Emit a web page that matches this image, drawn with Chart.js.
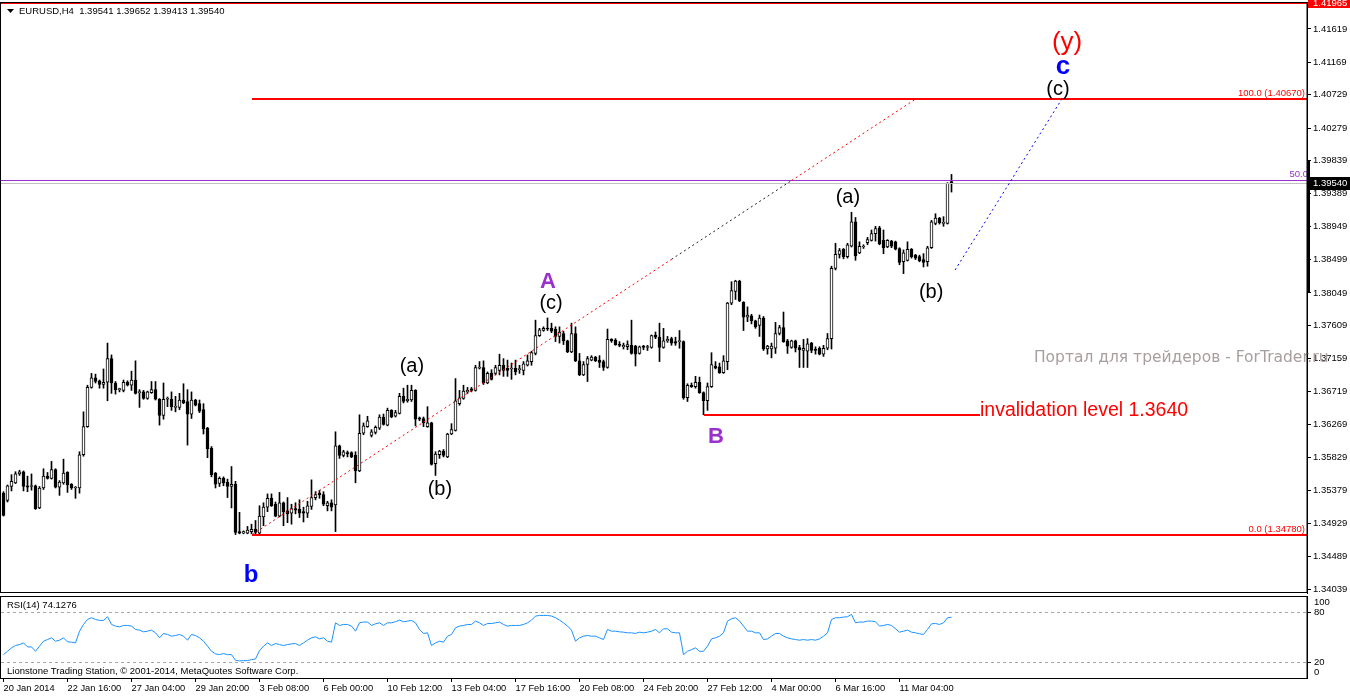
<!DOCTYPE html>
<html><head><meta charset="utf-8">
<script src="https://cdn.jsdelivr.net/npm/chart.js@4/dist/chart.umd.min.js"></script>
<style>
html,body{margin:0;padding:0;background:#fff;overflow:hidden}
#wrap{position:relative;width:1350px;height:697px;background:#fff}
canvas{position:absolute;left:0}
#main{top:0}
#rsi{top:594px}
</style></head><body>
<div id="wrap"><canvas id="main" width="1350" height="594"></canvas><canvas id="rsi" width="1350" height="103"></canvas></div>
<script>
// ---------- DATA (EURUSD H4) ----------
const opens=[1.3534,1.3524,1.3543,1.3548,1.3560,1.3563,1.3544,1.3543,1.3544,1.3514,
1.3541,1.3557,1.3554,1.3566,1.3542,1.3548,1.3562,1.3546,1.3541,1.3541,
1.3586,1.3624,1.3677,1.3690,1.3686,1.3681,1.3684,1.3716,1.3683,1.3674,
1.3673,1.3684,1.3680,1.3687,1.3670,1.3671,1.3662,1.3670,1.3674,1.3661,
1.3639,1.3661,1.3661,1.3650,1.3650,1.3660,1.3658,1.3641,1.3660,1.3655,
1.3647,1.3622,1.3595,1.3561,1.3547,1.3554,1.3549,1.3543,1.3546,1.3482,
1.3480,1.3480,1.3482,1.3485,1.3480,1.3502,1.3515,1.3527,1.3519,1.3503,
1.3521,1.3510,1.3507,1.3513,1.3512,1.3509,1.3507,1.3516,1.3528,1.3534,
1.3532,1.3517,1.3521,1.3518,1.3598,1.3585,1.3589,1.3589,1.3585,1.3564,
1.3615,1.3624,1.3612,1.3616,1.3622,1.3637,1.3626,1.3646,1.3638,1.3642,
1.3665,1.3659,1.3660,1.3673,1.3636,1.3635,1.3624,1.3629,1.3574,1.3586,
1.3591,1.3583,1.3614,1.3619,1.3655,1.3662,1.3671,1.3675,1.3673,1.3703,
1.3704,1.3683,1.3696,1.3696,1.3700,1.3707,1.3703,1.3702,1.3703,1.3701,
1.3700,1.3707,1.3712,1.3723,1.3747,1.3754,1.3757,1.3757,1.3756,1.3746,
1.3750,1.3740,1.3725,1.3750,1.3713,1.3694,1.3708,1.3714,1.3718,1.3714,
1.3712,1.3704,1.3742,1.3741,1.3735,1.3732,1.3732,1.3734,1.3733,1.3723,
1.3733,1.3731,1.3731,1.3748,1.3745,1.3731,1.3740,1.3743,1.3739,1.3739,
1.3739,1.3663,1.3680,1.3678,1.3684,1.3670,1.3659,1.3678,1.3706,1.3705,
1.3697,1.3712,1.3791,1.3807,1.3821,1.3792,1.3772,1.3774,1.3767,1.3761,
1.3771,1.3729,1.3729,1.3730,1.3750,1.3758,1.3740,1.3731,1.3740,1.3731,
1.3727,1.3726,1.3737,1.3729,1.3730,1.3722,1.3730,1.3743,1.3838,1.3857,
1.3864,1.3854,1.3868,1.3901,1.3859,1.3867,1.3873,1.3876,1.3885,1.3893,
1.3876,1.3867,1.3875,1.3874,1.3865,1.3847,1.3849,1.3864,1.3856,1.3854,
1.3850,1.3847,1.3866,1.3899,1.3906,1.3899,1.3899,1.39541];
const highs=[1.3536,1.3545,1.3559,1.3563,1.3565,1.3564,1.3557,1.3560,1.3545,1.3543,
1.3567,1.3562,1.3577,1.3567,1.3551,1.3580,1.3563,1.3547,1.3543,1.3590,
1.3644,1.3680,1.3696,1.3695,1.3687,1.3702,1.3737,1.3721,1.3685,1.3676,
1.3687,1.3686,1.3699,1.3713,1.3674,1.3673,1.3672,1.3685,1.3685,1.3662,
1.3683,1.3664,1.3671,1.3665,1.3669,1.3682,1.3674,1.3671,1.3661,1.3660,
1.3655,1.3623,1.3597,1.3562,1.3556,1.3556,1.3553,1.3570,1.3550,1.3508,
1.3483,1.3489,1.3492,1.3497,1.3517,1.3521,1.3533,1.3533,1.3522,1.3535,
1.3522,1.3528,1.3519,1.3521,1.3525,1.3515,1.3523,1.3552,1.3536,1.3538,
1.3536,1.3523,1.3525,1.3617,1.3599,1.3592,1.3591,1.3590,1.3590,1.3640,
1.3629,1.3638,1.3620,1.3625,1.3640,1.3641,1.3649,1.3647,1.3646,1.3669,
1.3676,1.3680,1.3680,1.3674,1.3637,1.3637,1.3651,1.3630,1.3590,1.3592,
1.3593,1.3615,1.3628,1.3689,1.3673,1.3680,1.3677,1.3677,1.3707,1.3712,
1.3713,1.3698,1.3701,1.3707,1.3722,1.3716,1.3714,1.3710,1.3714,1.3707,
1.3712,1.3721,1.3726,1.3768,1.3757,1.3759,1.3771,1.3764,1.3759,1.3759,
1.3753,1.3741,1.3764,1.3759,1.3723,1.3712,1.3719,1.3720,1.3719,1.3720,
1.3714,1.3756,1.3743,1.3743,1.3739,1.3737,1.3740,1.3768,1.3734,1.3733,
1.3734,1.3734,1.3748,1.3752,1.3764,1.3757,1.3746,1.3745,1.3745,1.3754,
1.3740,1.3682,1.3683,1.3692,1.3691,1.3671,1.3683,1.3724,1.3712,1.3710,
1.3720,1.3792,1.3820,1.3822,1.3822,1.3793,1.3786,1.3776,1.3768,1.3775,
1.3773,1.3734,1.3737,1.3765,1.3761,1.3779,1.3742,1.3741,1.3741,1.3734,
1.3742,1.3743,1.3738,1.3732,1.3732,1.3734,1.3750,1.3841,1.3872,1.3865,
1.3865,1.3872,1.3914,1.3907,1.3874,1.3870,1.3880,1.3890,1.3895,1.3895,
1.3890,1.3877,1.3876,1.3875,1.3866,1.3863,1.3874,1.3865,1.3857,1.3856,
1.3858,1.3868,1.3903,1.3912,1.3907,1.3908,1.3954,1.39652];
const lows=[1.3503,1.3522,1.3537,1.3547,1.3558,1.3537,1.3536,1.3538,1.3512,1.3513,
1.3539,1.3553,1.3553,1.3541,1.3531,1.3546,1.3535,1.3539,1.3527,1.3534,
1.3584,1.3623,1.3676,1.3683,1.3676,1.3676,1.3659,1.3669,1.3668,1.3671,
1.3671,1.3679,1.3673,1.3668,1.3650,1.3661,1.3661,1.3669,1.3660,1.3626,
1.3634,1.3651,1.3646,1.3644,1.3647,1.3655,1.3599,1.3635,1.3652,1.3643,
1.3614,1.3582,1.3556,1.3541,1.3543,1.3544,1.3528,1.3514,1.3478,1.3479,
1.3479,1.3479,1.3479,1.3478,1.3479,1.3490,1.3509,1.3516,1.3502,1.3502,
1.3490,1.3494,1.3492,1.3506,1.3501,1.3495,1.3501,1.3512,1.3525,1.3527,
1.3517,1.3510,1.3510,1.3482,1.3581,1.3583,1.3583,1.3582,1.3548,1.3563,
1.3613,1.3623,1.3610,1.3614,1.3620,1.3626,1.3625,1.3636,1.3637,1.3641,
1.3656,1.3657,1.3658,1.3625,1.3632,1.3624,1.3623,1.3572,1.3558,1.3581,
1.3583,1.3582,1.3613,1.3618,1.3653,1.3661,1.3669,1.3671,1.3672,1.3702,
1.3681,1.3682,1.3687,1.3694,1.3694,1.3692,1.3692,1.3688,1.3694,1.3696,
1.3694,1.3706,1.3707,1.3721,1.3746,1.3753,1.3754,1.3751,1.3739,1.3737,
1.3735,1.3724,1.3724,1.3712,1.3693,1.3693,1.3685,1.3713,1.3712,1.3704,
1.3700,1.3703,1.3738,1.3734,1.3732,1.3729,1.3728,1.3722,1.3706,1.3722,
1.3728,1.3727,1.3730,1.3743,1.3712,1.3730,1.3738,1.3734,1.3734,1.3730,
1.3661,1.3658,1.3677,1.3676,1.3669,1.3640,1.3646,1.3677,1.3702,1.3696,
1.3696,1.3701,1.3789,1.3796,1.3793,1.3754,1.3766,1.3763,1.3757,1.3746,
1.3727,1.3722,1.3717,1.3723,1.3748,1.3738,1.3723,1.3730,1.3725,1.3704,
1.3704,1.3704,1.3724,1.3722,1.3721,1.3719,1.3728,1.3729,1.3836,1.3852,
1.3851,1.3852,1.3867,1.3849,1.3858,1.3865,1.3870,1.3875,1.3875,1.3870,
1.3858,1.3866,1.3866,1.3863,1.3843,1.3831,1.3848,1.3852,1.3850,1.3847,
1.3840,1.3841,1.3865,1.3897,1.3898,1.3895,1.3898,1.39413];
const closes=[1.3504,1.3544,1.3550,1.3560,1.3563,1.3543,1.3542,1.3543,1.3513,1.3541,
1.3557,1.3554,1.3566,1.3542,1.3549,1.3561,1.3545,1.3541,1.3541,1.3586,
1.3624,1.3677,1.3690,1.3685,1.3681,1.3684,1.3716,1.3683,1.3674,1.3674,
1.3684,1.3680,1.3687,1.3669,1.3670,1.3662,1.3671,1.3674,1.3661,1.3639,
1.3661,1.3661,1.3651,1.3650,1.3660,1.3656,1.3641,1.3660,1.3653,1.3645,
1.3621,1.3594,1.3559,1.3546,1.3554,1.3548,1.3543,1.3546,1.3481,1.3480,
1.3482,1.3484,1.3485,1.3481,1.3503,1.3515,1.3527,1.3517,1.3503,1.3521,
1.3509,1.3506,1.3513,1.3511,1.3507,1.3507,1.3517,1.3528,1.3532,1.3532,
1.3519,1.3521,1.3515,1.3598,1.3585,1.3590,1.3587,1.3583,1.3564,1.3615,
1.3625,1.3632,1.3617,1.3623,1.3637,1.3627,1.3646,1.3637,1.3643,1.3665,
1.3658,1.3661,1.3673,1.3634,1.3634,1.3629,1.3629,1.3573,1.3587,1.3591,
1.3585,1.3614,1.3620,1.3659,1.3663,1.3672,1.3673,1.3673,1.3704,1.3704,
1.3683,1.3696,1.3688,1.3704,1.3707,1.3700,1.3700,1.3702,1.3698,1.3701,
1.3709,1.3713,1.3724,1.3747,1.3755,1.3757,1.3756,1.3753,1.3746,1.3752,
1.3740,1.3725,1.3750,1.3713,1.3694,1.3708,1.3716,1.3718,1.3713,1.3711,
1.3704,1.3742,1.3740,1.3735,1.3734,1.3734,1.3735,1.3723,1.3722,1.3732,
1.3731,1.3731,1.3747,1.3745,1.3731,1.3740,1.3742,1.3737,1.3737,1.3739,
1.3663,1.3680,1.3678,1.3684,1.3670,1.3659,1.3678,1.3708,1.3703,1.3697,
1.3713,1.3791,1.3808,1.3821,1.3794,1.3772,1.3775,1.3767,1.3759,1.3771,
1.3729,1.3733,1.3733,1.3750,1.3758,1.3739,1.3733,1.3740,1.3730,1.3728,
1.3730,1.3736,1.3727,1.3727,1.3722,1.3730,1.3743,1.3838,1.3857,1.3862,
1.3854,1.3870,1.3901,1.3855,1.3868,1.3867,1.3877,1.3885,1.3892,1.3871,
1.3866,1.3876,1.3868,1.3864,1.3846,1.3859,1.3864,1.3854,1.3852,1.3848,
1.3846,1.3866,1.3901,1.3906,1.3900,1.3900,1.3953,1.39540];
const rsiValues=[28.5,32.6,36.7,39.6,40.8,42.8,37.9,37.9,32.6,38.8,
44.9,46.9,49.0,44.9,46.1,49.0,44.1,43.7,42.8,57.1,
65.3,71.4,73.5,71.4,70.2,70.2,74.7,65.3,63.3,62.4,
64.1,64.1,63.3,59.2,58.4,56.3,57.1,58.4,55.1,49.0,
54.3,53.1,51.0,51.8,53.1,51.0,46.1,53.1,51.8,49.0,
44.9,38.8,32.6,29.4,28.5,29.8,28.5,28.5,21.6,20.8,
21.2,21.2,22.4,23.2,33.4,38.8,42.8,39.6,42.0,40.8,
39.6,40.8,41.6,42.0,39.6,42.8,46.1,49.0,50.2,47.7,
49.0,44.9,43.7,67.3,64.1,65.3,65.3,63.3,57.1,67.3,
68.2,68.2,64.1,66.1,67.3,64.1,67.3,67.3,68.6,70.6,
68.6,69.4,70.2,67.3,59.2,54.3,55.1,39.6,42.8,44.9,
43.7,51.0,53.1,61.2,63.3,64.1,65.3,65.3,69.4,67.3,
64.1,66.5,66.5,67.3,68.2,65.3,63.3,64.1,64.1,64.1,
65.3,67.3,70.6,75.5,76.3,76.3,76.3,75.5,73.5,70.6,
67.3,63.3,58.4,44.9,49.0,51.0,51.8,51.0,51.0,49.0,
46.9,59.2,57.1,57.1,56.3,55.9,55.1,55.1,54.3,55.9,
55.1,55.9,57.1,59.2,55.1,60.0,60.0,55.9,55.1,55.1,
28.5,32.6,34.7,36.7,32.6,32.6,38.8,47.7,49.0,51.0,
55.1,69.4,72.3,73.5,69.4,63.3,57.1,57.1,55.1,55.1,
46.9,47.7,51.0,54.3,54.3,51.0,49.0,47.7,46.9,46.1,
46.9,46.1,46.9,46.1,47.7,51.0,55.1,71.4,73.5,73.5,
74.3,74.7,77.6,67.3,68.2,68.2,69.4,69.4,68.6,63.3,
64.1,65.3,64.1,60.0,55.9,57.1,58.4,55.9,55.1,53.9,
53.1,59.2,66.1,66.5,65.3,67.3,73.5,74.1276];
const priceTicks=[1.41619,1.41169,1.40729,1.40279,1.39839,1.39389,1.38949,1.38499,1.38049,1.37609,1.37159,1.36719,1.36269,1.35829,1.35379,1.34929,1.34489,1.34039];
const timeTickBars=[0,16,32,48,64,80,96,112,128,144,160,176,192,208,224];
const timeTickLabels=['20 Jan 2014','22 Jan 16:00','27 Jan 04:00','29 Jan 20:00','3 Feb 08:00','6 Feb 00:00','10 Feb 12:00','13 Feb 04:00','17 Feb 16:00','20 Feb 08:00','24 Feb 20:00','27 Feb 12:00','4 Mar 00:00','6 Mar 16:00','11 Mar 04:00'];
const rsiLevels=[80,20];
// analysis objects (bar index, price)
const fibo100=1.40670, fibo0=1.34780, fiboStartBar=62.2, fiboEndBar=228;
const darkSegFromBar=167, darkSegToBar=197;
const halfLevel=1.39576;
const topLevel=1.41965;
const invalidLevel=1.3640, invalidFromBar=175.1, invalidToBar=244.1;
const projFromBar=237.9, projFromPrice=1.38359, projToBar=264.9, projToPrice=1.40699;
const waveText=['(y)','c','(c)','(a)','(b)','(a)','(b)','(c)','A','B','b'];
const waveBar=[265.9,264.9,263.6,211.1,231.9,102.1,109.1,136.9,136.1,178.1,61.9];
const wavePrice=[1.41430,1.41105,1.40807,1.39333,1.38048,1.37047,1.35383,1.37912,1.38196,1.36100,1.34233];
const waveKind=['red','blueB','blk','blk','blk','blk','blk','blk','purB','purB','blueS'];
const watermarkBar=257.6, watermarkPrice=1.37168;

// ---------- LAYOUT ----------
const X_MIN=-0.625, X_MAX=325.875;
const K=0.00013528;
const Y_MAX=1.41619+27*K, Y_MIN=1.41619-564*K;
const FONT="'Liberation Sans', Arial, sans-serif";
Chart.defaults.font.family=FONT;
Chart.defaults.font.size=9.5;
Chart.defaults.color='#000';
const idx=opens.map((_,i)=>i);
const kindStyle={
  red:{font:'26px '+FONT,color:'#ff0000'},
  blueB:{font:'bold 26px '+FONT,color:'#0000ff'},
  blueS:{font:'bold 24px '+FONT,color:'#0000ff'},
  blk:{font:'20px '+FONT,color:'#000000'},
  purB:{font:'bold 22px '+FONT,color:'#9932cc'}
};
function noPad(ax){ax.paddingTop=0;ax.paddingBottom=0;ax.paddingLeft=0;ax.paddingRight=0;}

const mainDecor={
  id:'mainDecor',
  afterDatasetsDraw(chart){
    const {ctx,chartArea:a,scales:{x:xs,y:ys}}=chart;
    const X=v=>xs.getPixelForValue(v), Y=v=>ys.getPixelForValue(v);
    ctx.save();
    const W=a.right-a.left;
    ctx.fillStyle='#ff0000'; ctx.fillRect(a.left,Math.round(Y(topLevel))-1,W,2);
    ctx.fillStyle='#9932cc'; ctx.fillRect(a.left,Math.round(Y(halfLevel)),W,1);
    ctx.fillStyle='#c0c0c0'; ctx.fillRect(a.left,Math.round(Y(closes[closes.length-1])),W,1);
    ctx.fillStyle='#ff0000';
    [fibo100,fibo0].forEach(p=>{const x0=Math.round(X(fiboStartBar));ctx.fillRect(x0,Math.round(Y(p))-1,a.right-x0,2);});
    // fibo trend line (dotted), dark in the middle segment
    const fx0=X(fiboStartBar), fy0=Y(fibo0), fx1=X(fiboEndBar), fy1=Y(fibo100);
    const at=b=>{const t=(X(b)-fx0)/(fx1-fx0);return [X(b),fy0+(fy1-fy0)*t];};
    const p1=at(darkSegFromBar), p2=at(darkSegToBar);
    ctx.lineWidth=1; ctx.setLineDash([2,3]);
    ctx.strokeStyle='#ff0000';
    ctx.beginPath(); ctx.moveTo(fx0,fy0); ctx.lineTo(p1[0],p1[1]); ctx.stroke();
    ctx.beginPath(); ctx.moveTo(p2[0],p2[1]); ctx.lineTo(fx1,fy1); ctx.stroke();
    ctx.strokeStyle='#202020';
    ctx.beginPath(); ctx.moveTo(p1[0],p1[1]); ctx.lineTo(p2[0],p2[1]); ctx.stroke();
    ctx.strokeStyle='#0000ff';
    ctx.beginPath(); ctx.moveTo(X(projFromBar),Y(projFromPrice)); ctx.lineTo(X(projToBar),Y(projToPrice)); ctx.stroke();
    ctx.setLineDash([]);
    // invalidation
    ctx.fillStyle='#ff0000';
    const ix0=Math.round(X(invalidFromBar)), ix1=Math.round(X(invalidToBar));
    ctx.fillRect(ix0,Math.round(Y(invalidLevel))-1,ix1-ix0,2);
    ctx.font='19.5px '+FONT; ctx.textAlign='left'; ctx.textBaseline='middle';
    ctx.fillText('invalidation level '+invalidLevel.toFixed(4),ix1,Y(invalidLevel)-4);
    // fibo texts
    ctx.font='9.5px '+FONT; ctx.textAlign='right'; ctx.textBaseline='bottom';
    ctx.fillText('100.0 ('+fibo100.toFixed(5)+')',a.right-2,Math.round(Y(fibo100))-1);
    ctx.fillText('0.0 ('+fibo0.toFixed(5)+')',a.right-2,Math.round(Y(fibo0))-1);
    ctx.fillStyle='#9932cc';
    ctx.fillText('50.0',a.right+1,Math.round(Y(halfLevel))-1);
    // watermark
    ctx.fillStyle='#a89e9e'; ctx.font="15.5px 'DejaVu Sans', sans-serif"; ctx.textAlign='left'; ctx.textBaseline='middle';
    ctx.fillText('Портал для трейдеров - ForTrader.ru',X(watermarkBar),Y(watermarkPrice));
    // wave labels
    ctx.textAlign='center'; ctx.textBaseline='middle';
    waveText.forEach((t,i)=>{const s=kindStyle[waveKind[i]];ctx.font=s.font;ctx.fillStyle=s.color;ctx.fillText(t,X(waveBar[i]),Y(wavePrice[i]));});
    ctx.restore();
  },
  afterDraw(chart){
    const {ctx,chartArea:a,scales:{y:ys}}=chart;
    const Y=v=>ys.getPixelForValue(v);
    ctx.save();
    ctx.strokeStyle='#000'; ctx.lineWidth=1;
    ctx.strokeRect(0.5,a.top+0.5,a.right-0.5,a.bottom-a.top-1);
    ctx.fillStyle='#000';
    ctx.fillRect(a.right,Math.round(Y(1.39839)),3,Math.round(Y(1.38049))-Math.round(Y(1.39839)));
    const yb=Math.round(Y(closes[closes.length-1]));
    ctx.fillStyle='#000'; ctx.fillRect(a.right+1,yb-6,43,13);
    ctx.fillStyle='#fff'; ctx.font='9.5px '+FONT; ctx.textAlign='left'; ctx.textBaseline='middle';
    ctx.fillText(closes[closes.length-1].toFixed(5),a.right+6,yb+0.5);
    const yt=Math.round(Y(topLevel));
    ctx.fillStyle='#ff0000'; ctx.fillRect(a.right+1,0,43,yt+5);
    ctx.fillStyle='#fff'; ctx.fillText(topLevel.toFixed(5),a.right+6,yt);
    ctx.fillStyle='#000';
    ctx.beginPath(); ctx.moveTo(7,9); ctx.lineTo(14,9); ctx.lineTo(10.5,13); ctx.closePath(); ctx.fill();
    ctx.font='9.5px '+FONT; ctx.textBaseline='middle';
    const L=closes.length-1;
    ctx.fillText('EURUSD,H4  '+opens[L].toFixed(5)+' '+highs[L].toFixed(5)+' '+lows[L].toFixed(5)+' '+closes[L].toFixed(5),19,11);
    ctx.restore();
  }
};

new Chart(document.getElementById('main'),{
  type:'bar',
  data:{datasets:[
    {label:'body',data:idx.map(i=>({x:i,y:[opens[i],closes[i]]})),
     backgroundColor:idx.map(i=>closes[i]>=opens[i]?'#ffffff':'#000000'),
     borderColor:'#000',borderWidth:1,borderSkipped:false,minBarLength:1,
     grouped:false,maxBarThickness:3,barPercentage:1,categoryPercentage:1,order:0},
    {label:'wick',data:idx.map(i=>({x:i,y:[lows[i],highs[i]]})),
     backgroundColor:'#000',borderWidth:0,grouped:false,maxBarThickness:1,barPercentage:1,categoryPercentage:1,order:1}
  ]},
  options:{responsive:false,animation:false,devicePixelRatio:1,
    layout:{padding:{left:1,top:2,right:0,bottom:1}},
    plugins:{legend:{display:false},tooltip:{enabled:false}},
    scales:{
      x:{type:'linear',display:false,min:X_MIN,max:X_MAX,offset:false},
      y:{type:'linear',position:'right',min:Y_MIN,max:Y_MAX,
        afterBuildTicks:ax=>{ax.ticks=priceTicks.map(v=>({value:v}));},
        afterFit:ax=>{ax.width=43;noPad(ax);},
        ticks:{callback:v=>Number(v).toFixed(5),padding:2,autoSkip:false,color:'#000',font:{size:9.5}},
        grid:{drawOnChartArea:false,drawTicks:true,tickLength:4,color:'#000'},
        border:{display:true,color:'#000'}}
    }},
  plugins:[mainDecor]
});

const rsiDecor={
  id:'rsiDecor',
  beforeDatasetsDraw(chart){
    const {ctx,chartArea:a,scales:{y:ys}}=chart;
    ctx.save(); ctx.strokeStyle='#a8a8a8'; ctx.lineWidth=1; ctx.setLineDash([3,3]);
    rsiLevels.forEach(l=>{const y=Math.round(ys.getPixelForValue(l))+0.5;ctx.beginPath();ctx.moveTo(a.left,y);ctx.lineTo(a.right,y);ctx.stroke();});
    ctx.restore();
  },
  afterDraw(chart){
    const {ctx,chartArea:a,scales:{y:ys}}=chart;
    const Y=v=>ys.getPixelForValue(v);
    ctx.save();
    ctx.strokeStyle='#000'; ctx.lineWidth=1;
    ctx.strokeRect(0.5,a.top+0.5,a.right-0.5,a.bottom-a.top);
    ctx.fillStyle='#000'; ctx.font='9.5px '+FONT; ctx.textAlign='left'; ctx.textBaseline='middle';
    ctx.fillText('RSI(14) '+rsiValues[rsiValues.length-1].toFixed(4),7,a.top+9);
    ctx.fillText('Lionstone Trading Station, © 2001-2014, MetaQuotes Software Corp.',7,a.bottom-7);
    [[100,6],[80,0],[20,0],[0,-6]].forEach(([v,o])=>{ctx.fillText(String(v),a.right+7,Math.round(Y(v))+o);});
    ctx.fillRect(a.right+1,Math.round(Y(80)),3,1);
    ctx.fillRect(a.right+1,Math.round(Y(20)),3,1);
    ctx.restore();
  }
};

new Chart(document.getElementById('rsi'),{
  type:'line',
  data:{datasets:[{label:'RSI(14)',data:idx.map(i=>({x:i,y:rsiValues[i]})),borderColor:'#1e90ff',borderWidth:1,pointRadius:0,tension:0,fill:false}]},
  options:{responsive:false,animation:false,devicePixelRatio:1,
    layout:{padding:{left:1,top:2,right:0,bottom:0}},
    plugins:{legend:{display:false},tooltip:{enabled:false}},
    scales:{
      x:{type:'linear',min:X_MIN,max:X_MAX,offset:false,
        afterBuildTicks:ax=>{ax.ticks=timeTickBars.map(v=>({value:v}));},
        afterFit:ax=>{ax.height=19;noPad(ax);},
        ticks:{callback:(v,i)=>timeTickLabels[i],align:'start',maxRotation:0,minRotation:0,autoSkip:false,padding:1,color:'#000',font:{size:9.3}},
        grid:{drawOnChartArea:false,drawTicks:true,tickLength:4,color:'#000'},
        border:{display:true,color:'#000'}},
      y:{type:'linear',position:'right',min:0,max:100,
        afterFit:ax=>{ax.width=43;noPad(ax);},
        ticks:{display:false},grid:{display:false},border:{display:true,color:'#000'}}
    }},
  plugins:[rsiDecor]
});
</script>
</body></html>
